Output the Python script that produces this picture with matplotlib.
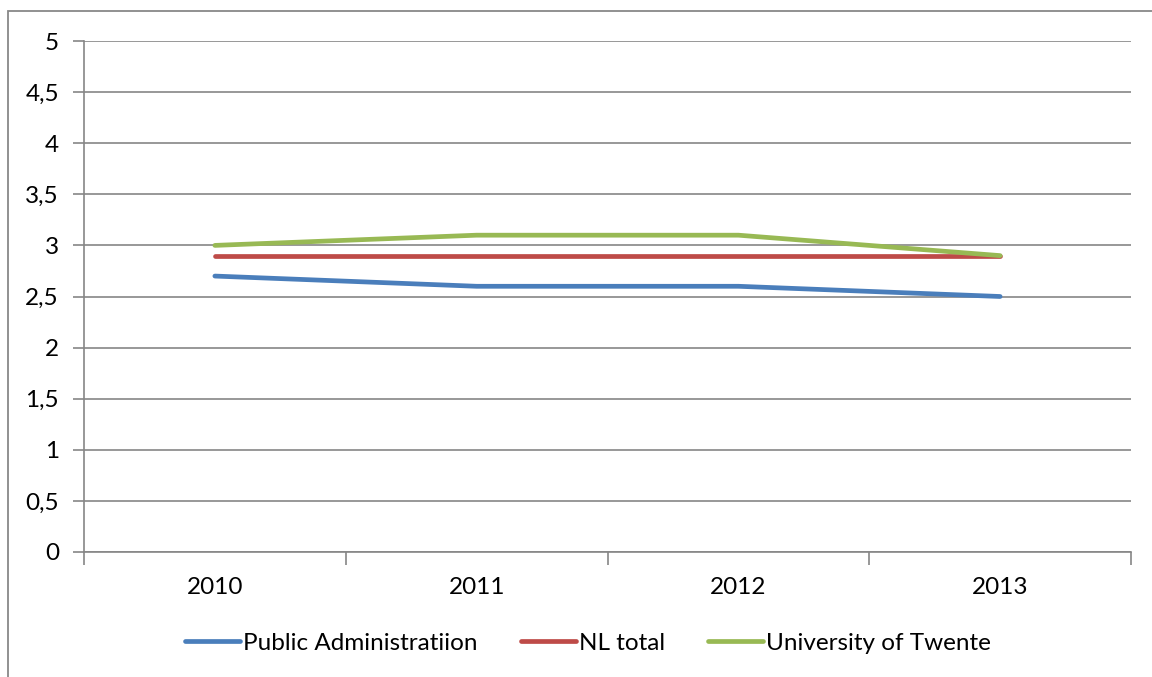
import matplotlib
matplotlib.use('Agg')
import matplotlib.pyplot as plt
from matplotlib.patches import Rectangle

years = ['2010', '2011', '2012', '2013']
public_admin = [2.7, 2.6, 2.6, 2.5]
nl_total = [2.9, 2.9, 2.9, 2.9]
twente = [3.0, 3.1, 3.1, 2.9]
yticks = [0, 0.5, 1, 1.5, 2, 2.5, 3, 3.5, 4, 4.5, 5]

plt.rcParams['font.family'] = ['Lato', 'DejaVu Sans']
FS = 17.5

W, H = 1152, 677
fig = plt.figure(figsize=(W / 100, H / 100), dpi=100)
ax = fig.add_axes([84 / W, 1 - 552 / H, (1131 - 84) / W, (552 - 41) / H])

# outer chart border (partly cut off at right/bottom)
fig.patches.append(Rectangle((8 / W, -0.5), 2, 1.5 - 11 / H, transform=fig.transFigure,
                             fill=False, edgecolor='#888888', linewidth=1.3))

x = range(len(years))
ax.plot(x, public_admin, color='#4A7EBB', lw=3.4, solid_capstyle='round', label='Public Administratiion')
ax.plot(x, nl_total, color='#BE4B48', lw=3.4, solid_capstyle='round', label='NL total')
ax.plot(x, twente, color='#98B954', lw=3.4, solid_capstyle='round', label='University of Twente')

ax.set_xlim(-0.5, len(years) - 0.5)
ax.set_ylim(0, 5)
ax.set_yticks(yticks)
ax.set_yticklabels([f'{v:g}'.replace('.', ',') for v in yticks])
ax.yaxis.grid(True, color='#868686', lw=1.2)
ax.set_axisbelow(True)

ax.set_xticks([i - 0.5 for i in range(len(years) + 1)], minor=False)
ax.set_xticklabels([])
ax.set_xticks(list(x), minor=True)
ax.set_xticklabels(years, minor=True)
ax.tick_params(axis='x', which='major', length=9, width=1.2, color='#868686')
ax.tick_params(axis='x', which='minor', length=0, pad=18, labelsize=FS)
ax.tick_params(axis='y', length=8, width=1.2, color='#868686', pad=10, labelsize=FS)

for s in ['top', 'right']:
    ax.spines[s].set_visible(False)
for s in ['left', 'bottom']:
    ax.spines[s].set_color('#868686')
    ax.spines[s].set_linewidth(1.2)

fig.legend(loc='center', bbox_to_anchor=(588 / W, 1 - 643 / H), ncol=3, frameon=False,
           fontsize=FS, handlelength=2.25, handletextpad=0.12, columnspacing=1.8)

fig.savefig('out.png', dpi=100)
